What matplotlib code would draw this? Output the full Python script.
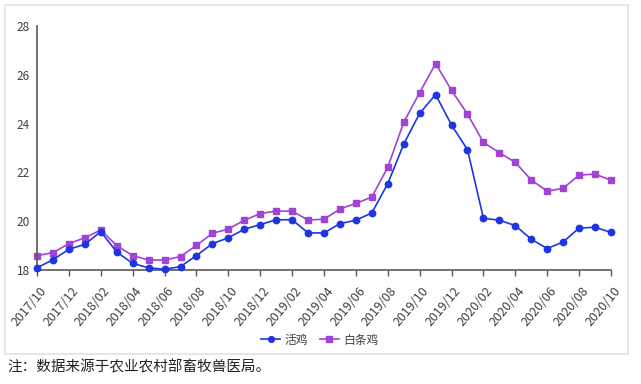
import matplotlib
matplotlib.use("Agg")
import matplotlib.pyplot as plt
from matplotlib.patches import Rectangle
from matplotlib.transforms import ScaledTranslation

plt.rcParams['font.family'] = ['Noto Sans CJK SC', 'DejaVu Sans']

months = ["2017/10", "2017/11", "2017/12", "2018/01", "2018/02", "2018/03", "2018/04", "2018/05",
          "2018/06", "2018/07", "2018/08", "2018/09", "2018/10", "2018/11", "2018/12", "2019/01",
          "2019/02", "2019/03", "2019/04", "2019/05", "2019/06", "2019/07", "2019/08", "2019/09",
          "2019/10", "2019/11", "2019/12", "2020/01", "2020/02", "2020/03", "2020/04", "2020/05",
          "2020/06", "2020/07", "2020/08", "2020/09", "2020/10"]

live_chicken = [18.09, 18.42, 18.85, 19.05, 19.57, 18.74, 18.27, 18.09, 18.03, 18.14,
                18.59, 19.08, 19.32, 19.67, 19.86, 20.06, 20.06, 19.52, 19.52, 19.90,
                20.04, 20.34, 21.54, 23.16, 24.42, 25.19, 23.94, 22.93, 20.12, 20.04,
                19.82, 19.26, 18.88, 19.15, 19.72, 19.75, 19.54]

white_chicken = [18.59, 18.71, 19.08, 19.32, 19.64, 19.00, 18.59, 18.41, 18.41, 18.55,
                 19.01, 19.50, 19.68, 20.04, 20.31, 20.42, 20.41, 20.05, 20.08, 20.50,
                 20.73, 20.99, 22.21, 24.05, 25.27, 26.46, 25.36, 24.39, 23.23, 22.81,
                 22.41, 21.69, 21.23, 21.35, 21.89, 21.93, 21.68]

series_names = ["活鸡", "白条鸡"]
y_ticks = [18, 20, 22, 24, 26, 28]
note = "注：数据来源于农业农村部畜牧兽医局。"

W, H = 641, 384
fig = plt.figure(figsize=(W / 100, H / 100), dpi=100)

# outer light frame
fig.patches.append(Rectangle((5 / W, 1 - 354 / H), 623 / W, 349 / H, transform=fig.transFigure,
                             fill=False, edgecolor="#e2e2e2", linewidth=1.2))

ax = fig.add_axes([37 / W, 1 - 270 / H, 574 / W, 244 / H])
x = list(range(len(months)))
blue = "#1f35e0"
purple = "#a144d4"
ax.plot(x, live_chicken, color=blue, marker="o", markersize=4.6, linewidth=1.2,
        label=series_names[0], clip_on=False, zorder=3)
ax.plot(x, white_chicken, color=purple, marker="s", markersize=4.4, linewidth=1.2,
        label=series_names[1], clip_on=False, zorder=2)

ax.set_xlim(0, len(months) - 1)
ax.set_ylim(18, 28)
ax.set_yticks(y_ticks)
ax.set_yticklabels([str(v) for v in y_ticks], fontsize=8.5, color="#404040")
ax.tick_params(axis="y", length=0, pad=5)
ax.set_xticks(x[::2])
ax.set_xticklabels(months[::2], rotation=50, ha="right", va="center", rotation_mode="anchor",
                   fontsize=9, color="#404040")
ax.tick_params(axis="x", length=4, width=1, color="#595959", pad=9.4)
offset = ScaledTranslation(7 / 100, 0, fig.dpi_scale_trans)
for lab in ax.get_xticklabels():
    lab.set_transform(lab.get_transform() + offset)

for s in ["top", "right"]:
    ax.spines[s].set_visible(False)
for s in ["left", "bottom"]:
    ax.spines[s].set_color("#595959")
    ax.spines[s].set_linewidth(1.2)

leg = fig.legend(loc="center", bbox_to_anchor=(320 / W, 1 - 340 / H), ncol=2, frameon=False,
                 fontsize=8.5, handlelength=1.6, handletextpad=0.4, columnspacing=1.0,
                 markerscale=0.9)
for t in leg.get_texts():
    t.set_color("#404040")

fig.text(7 / W, 1 - 367 / H, note, fontsize=10.5, ha="left", va="center", color="#222222")

fig.savefig("out.png", dpi=100)
